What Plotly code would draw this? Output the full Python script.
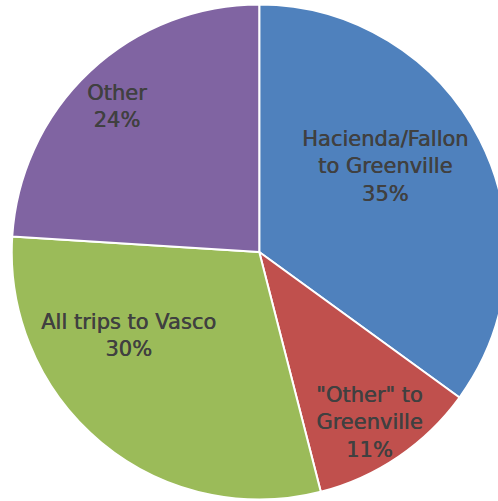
import plotly.graph_objects as go

# ----------------------------------------------------------------------------------------------------------------------
# Data
# ----------------------------------------------------------------------------------------------------------------------
labels = ["Hacienda/Fallon<br>to Greenville", "\"Other\" to<br>Greenville", "All trips to Vasco", "Other"]
values = [35, 11, 30, 24]
colors = ["#4F81BD", "#C0504D", "#9BBB59", "#8064A2"]

# label anchor points in pixels (Excel "best fit" placement)
label_px = [(385, 167), (369, 422), (128, 335), (117, 106)]

W, H = 507, 501

# ----------------------------------------------------------------------------------------------------------------------
# Figure
# ----------------------------------------------------------------------------------------------------------------------
fig = go.Figure(go.Pie(
    labels=labels, values=values, sort=False, direction="clockwise", rotation=0,
    marker=dict(colors=colors, line=dict(color="white", width=2)),
    textinfo="none", showlegend=False, hoverinfo="label+percent",
    domain=dict(x=[11.5 / W, 1], y=[1.5 / H, 496.5 / H]),
))

total = sum(values)
for lab, v, (px_, py_) in zip(labels, values, label_px):
    fig.add_annotation(x=px_ / W, y=1 - py_ / H, xref="paper", yref="paper",
                       text=f"{lab}<br>{round(100 * v / total)}%", showarrow=False,
                       xanchor="center", yanchor="middle", align="center",
                       font=dict(family="DejaVu Sans", size=21, color="#404040",
                                 shadow="0.5px 0px 0px #404040"))

fig.update_layout(width=W, height=H, margin=dict(l=0, r=0, t=0, b=0),
                  paper_bgcolor="white", plot_bgcolor="white")

fig.write_html("out.html", config={"displayModeBar": False},
               post_script="document.body.style.margin='0';document.body.style.overflow='hidden';")
